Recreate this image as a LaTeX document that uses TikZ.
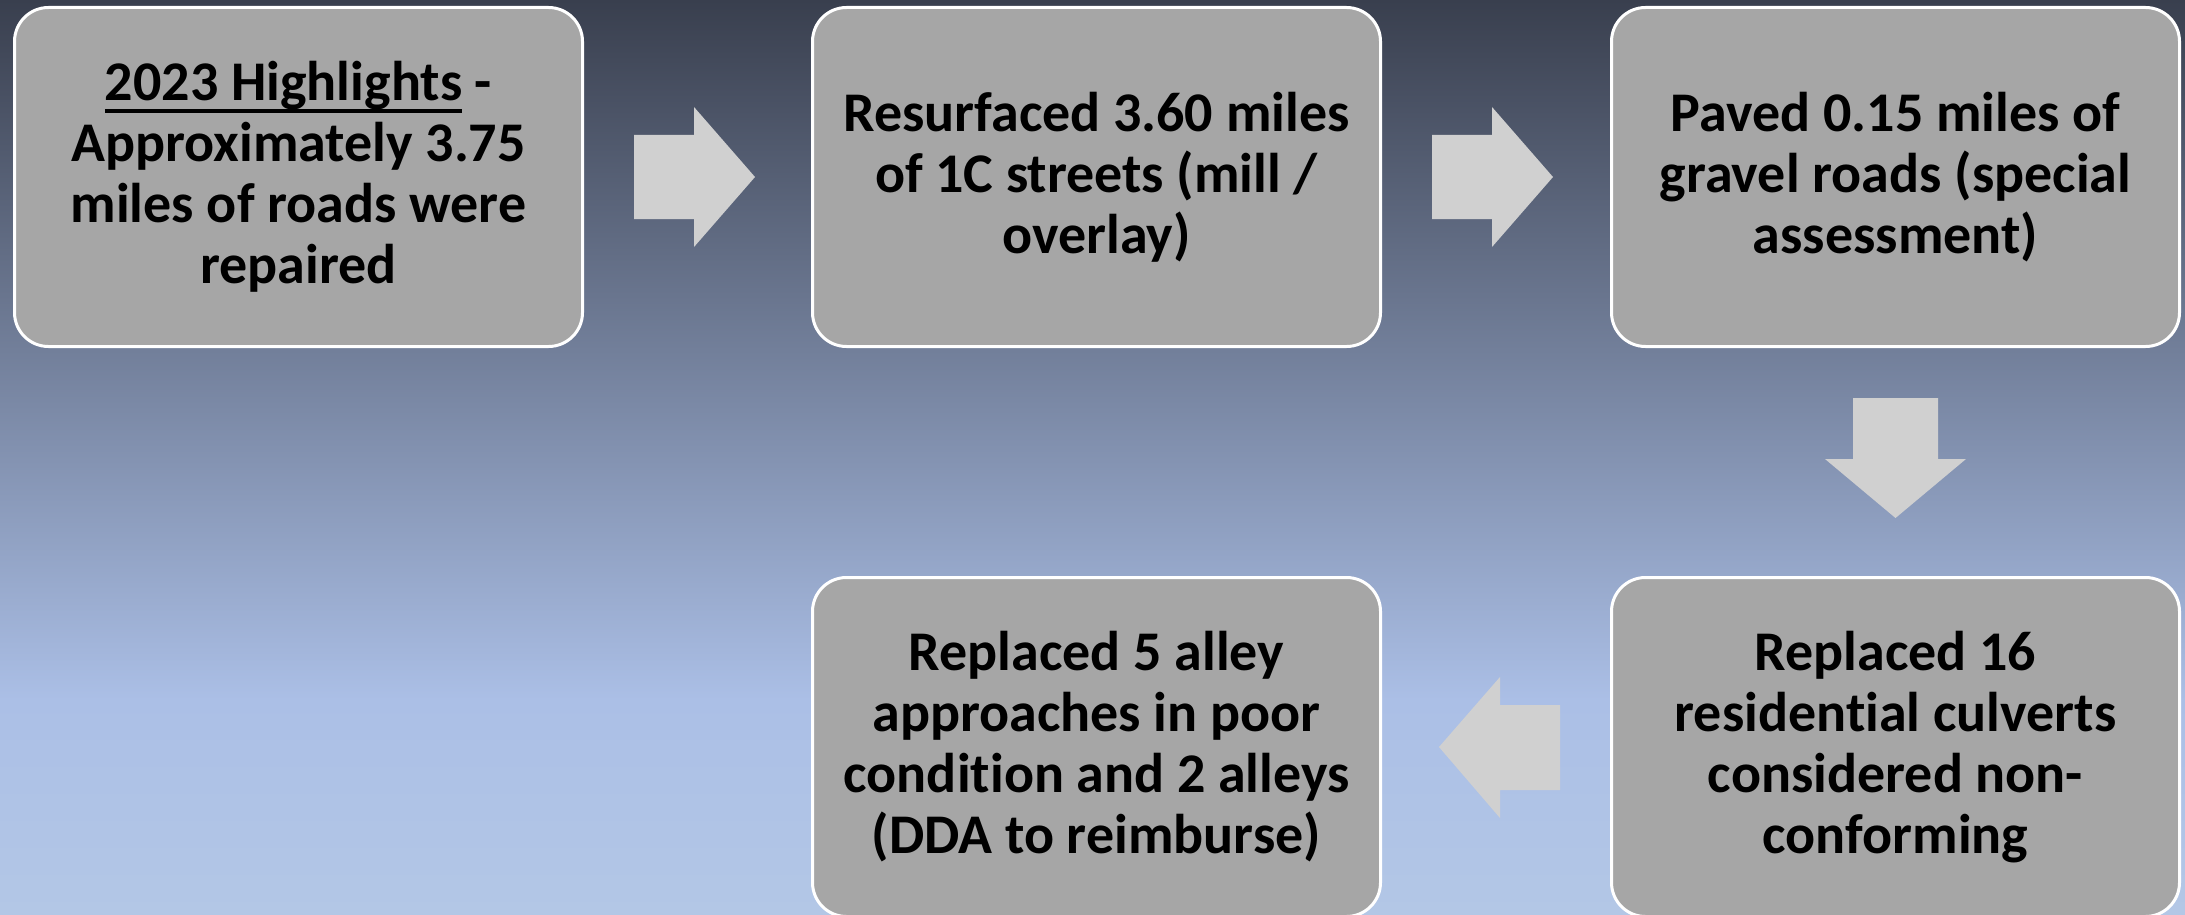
\documentclass[tikz,border=0pt]{standalone}
\usepackage{fontspec}
\setmainfont{Carlito}[Ligatures=NoCommon]
\definecolor{bgtop}{HTML}{393F4E}
\definecolor{bgmid}{HTML}{ABBFE6}
\definecolor{bgbot}{HTML}{B3C7E6}
\definecolor{boxfill}{HTML}{A6A6A6}
\definecolor{arrfill}{HTML}{D0D0D0}
\newcommand\myul[1]{\setbox0\hbox{#1}\rlap{\lower 12pt\hbox{\rule{\wd0}{3.5pt}}}\box0\relax}
\tikzset{
  stepbox/.style={rectangle, draw=white, line width=3pt, fill=boxfill,
    rounded corners=34pt, minimum width=568pt, minimum height=339pt,
    align=center, text=black, inner sep=0pt,
    font=\fontsize{56}{61}\selectfont\bfseries},
  blockarrow/.style={fill=arrfill, draw=none}
}
\begin{document}
\begin{tikzpicture}[x=1pt,y=-1pt]
\useasboundingbox (0,0) rectangle (2185,915);
\begin{scope}
\clip (0,0) rectangle (2185,915);
\shade[top color=bgtop, bottom color=bgmid] (0,0) rectangle (2185,700);
\shade[top color=bgmid, bottom color=bgbot] (0,699.5) rectangle (2185,915);
\node[stepbox] (b1) at (298.5,177) {\myul{2023 Highlights} -\\Approximately 3.75\\miles of roads were\\repaired};
\node[stepbox] (b2) at (1096.5,177) {Resurfaced 3.60 miles\\of 1C streets (mill /\\overlay)};
\node[stepbox] (b3) at (1895.5,177) {Paved 0.15 miles of\\gravel roads (special\\assessment)};
\node[stepbox] (b4) at (1895.5,747) {Replaced 16\\residential culverts\\considered non-\\conforming};
\node[stepbox] (b5) at (1096.5,747) {Replaced 5 alley\\approaches in poor\\condition and 2 alleys\\(DDA to reimburse)};
% block arrows
\fill[blockarrow] (634,135) -- (694,135) -- (694,107) -- (755,177) -- (694,247) -- (694,219) -- (634,219) -- cycle;
\fill[blockarrow] (1432,135) -- (1492,135) -- (1492,107) -- (1553,177) -- (1492,247) -- (1492,219) -- (1432,219) -- cycle;
\fill[blockarrow] (1853,398) -- (1938,398) -- (1938,459) -- (1966,459) -- (1895.5,518) -- (1825,459) -- (1853,459) -- cycle;
\fill[blockarrow] (1560,705) -- (1500,705) -- (1500,677) -- (1439,747) -- (1500,818) -- (1500,790) -- (1560,790) -- cycle;
\end{scope}
\end{tikzpicture}
\end{document}
